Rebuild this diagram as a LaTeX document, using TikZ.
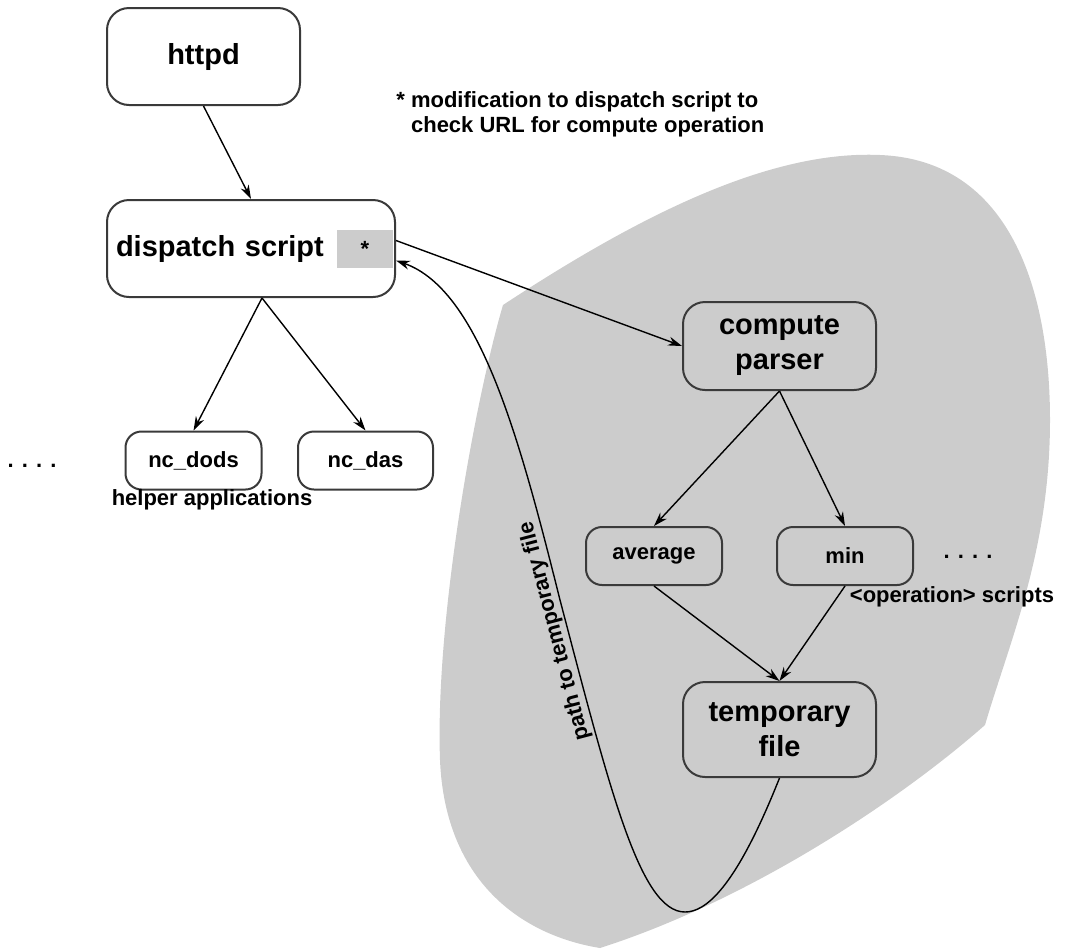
\documentclass[tikz,border=0pt]{standalone}
\usepackage{fontspec}
\setmainfont{Liberation Sans}
\usetikzlibrary{positioning, arrows.meta}
\definecolor{blobgray}{HTML}{CCCCCC}
\definecolor{edgegray}{HTML}{3A3A3A}

\begin{document}
\begin{tikzpicture}[
				x=0.5pt, y=-0.5pt,
				>={Stealth[length=7pt,width=4.5pt]},
				conn/.style={->, line width=0.7pt},
				bigbox/.style={draw=edgegray, line width=1pt, rounded corners=11pt, align=center,
					font=\bfseries\fontsize{14.5}{17.5}\selectfont,
					minimum width=96.5pt, minimum height=48.5pt, inner sep=0pt},
				smallbox/.style={draw=edgegray, line width=1pt, rounded corners=8pt,
					font=\bfseries\fontsize{11}{13}\selectfont,
					minimum width=68pt, minimum height=29pt, inner sep=0pt},
				note/.style={font=\bfseries\fontsize{11}{12.5}\selectfont, inner sep=0pt}
				]
				\useasboundingbox (0,0) rectangle (1067,949);
				% shaded area of the compute service
				\fill[blobgray] (503,305) .. controls (640,215) and (770,150) .. (880,155)
					.. controls (1010,160) and (1050,290) .. (1050,420)
					.. controls (1050,550) and (1010,640) .. (985,725)
					.. controls (900,800) and (750,900) .. (600,948)
					.. controls (520,935) and (445,880) .. (440,760)
					.. controls (435,620) and (475,400) .. (503,305);
				\node[bigbox] (httpd) at (203.5,56.5) {httpd};
				\node[bigbox, minimum width=144pt, text width=135pt, align=left] (dispatch) at (251,248.5) {dispatch script};
				\node[fill=blobgray, minimum width=28pt, minimum height=19pt, inner sep=0pt,
					font=\bfseries\fontsize{11}{13}\selectfont] (flag) at (365,249) {*};
				\node[note, anchor=west, align=left] (remark) at (396,114)
				{* modification to dispatch script to\\\phantom{*}\ check URL for compute operation};
				\node[smallbox] (dods) at (193.5,460.5) {nc\_dods};
				\node[smallbox, minimum width=67.5pt] (das) at (365.5,460.5) {nc\_das};
				\node[note] (dotsleft) at (32,466) {. . . .};
				\node[note] (helpers) at (212,500) {helper applications};
				\node[bigbox, minimum height=44pt] (parser) at (779.5,346) {compute\\parser};
				\node[smallbox] (avg) at (654,556) {average};
				\node[smallbox] (min) at (845,556) {min};
				\node[note] (dotsright) at (968,557) {. . . .};
				\node[note] (opscripts) at (952,597) {<operation> scripts};
				\node[bigbox, minimum height=47.5pt, text depth=0pt] (tmpfile) at (779.5,729.5) {temporary\\file};
				\coordinate (fork) at ([xshift=5.5pt]dispatch.south);
				\draw[conn] (httpd.south) -- (dispatch.north);
				\draw[conn] (fork) -- (dods.north);
				\draw[conn] (fork) -- (das.north);
				\draw[conn] ([yshift=4pt]dispatch.east) -- (parser.west);
				\draw[conn] (parser.south) -- (avg.north);
				\draw[conn] (parser.south) -- (min.north);
				\draw[conn] (avg.south) -- (tmpfile.north);
				\draw[conn] (min.south) -- (tmpfile.north);
				\draw[conn] (tmpfile.south) .. controls (735,890) and (705,912) .. (685,912)
					.. controls (640,912) and (610,790) .. (560,600)
					node[pos=0.95, sloped, allow upside down, above=1pt, note] {path to temporary file}
					.. controls (520,440) and (480,290) .. ([yshift=-6pt]dispatch.east);
			\end{tikzpicture}
\end{document}
